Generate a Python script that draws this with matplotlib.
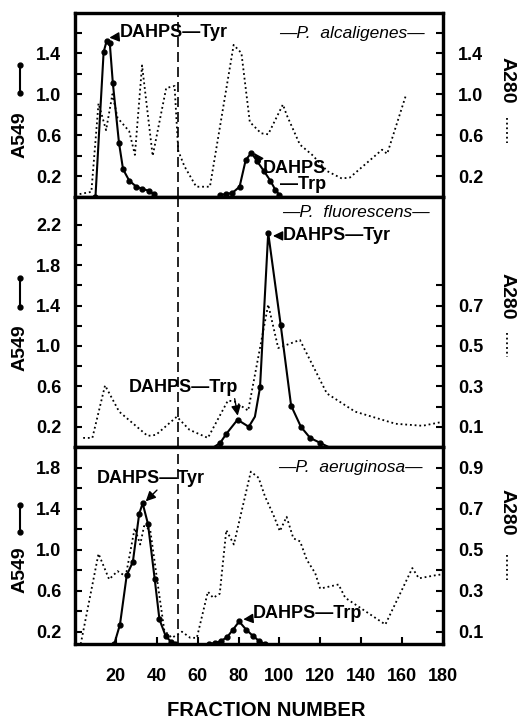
import matplotlib
matplotlib.use("Agg")
import matplotlib.pyplot as plt
from matplotlib.lines import Line2D

plt.rcParams["font.family"] = ["Liberation Sans", "DejaVu Sans"]
plt.rcParams["font.weight"] = "bold"

W, H = 517, 720

# --- P. alcaligenes (top) ---
alc_a549_tyr_x = [10, 14, 15.5, 17, 18.5, 21.5, 23.5, 26.5, 30, 33, 36, 38.5]
alc_a549_tyr_y = [0.0, 1.41, 1.52, 1.50, 1.11, 0.53, 0.27, 0.16, 0.10, 0.08, 0.06, 0.03]
alc_a549_trp_x = [71, 74, 77, 80.5, 83.5, 86.3, 89, 92.5, 95.5, 98, 100]
alc_a549_trp_y = [0.02, 0.03, 0.04, 0.10, 0.36, 0.43, 0.35, 0.25, 0.16, 0.07, 0.02]
alc_a280_x = [0, 8, 11.5, 15.2, 18.3, 20.8, 26.5, 29.3, 32.8, 38, 44.6, 48.7, 50.5,
              53.5, 59.3, 66, 77.6, 81.4, 85.5, 91, 94.5, 101.7, 103.5, 110, 116,
              123.5, 130.5, 134.5, 150.2, 152.7, 161.7]
alc_a280_y = [0.02, 0.05, 0.91, 0.65, 1.00, 0.77, 0.64, 0.41, 1.28, 0.40, 1.06, 1.08, 0.45,
              0.30, 0.10, 0.10, 1.48, 1.40, 0.73, 0.62, 0.61, 0.90, 0.80, 0.51, 0.41,
              0.25, 0.18, 0.19, 0.46, 0.42, 0.98]

# --- P. fluorescens (middle) ---
flu_a549_x = [68, 71, 74, 79.5, 85, 88, 90.5, 94.5, 100.6, 105.7, 110.5, 115, 120, 124]
flu_a549_y = [0.0, 0.04, 0.13, 0.27, 0.20, 0.30, 0.59, 2.12, 1.21, 0.41, 0.20, 0.09, 0.04, 0.0]
flu_a280_x = [4, 8.5, 14.7, 21.6, 35.5, 39.6, 49.8, 56, 65, 74.8, 78.1, 84.7, 94.5,
              99.4, 110, 123.2, 137, 156.8, 170, 180]
flu_a280_y = [0.045, 0.045, 0.305, 0.175, 0.055, 0.06, 0.15, 0.085, 0.045, 0.23, 0.225,
              0.18, 0.705, 0.49, 0.53, 0.265, 0.175, 0.115, 0.105, 0.125]

# --- P. aeruginosa (bottom) ---
aer_a549_tyr_x = [19.2, 22, 25.3, 28.3, 31.4, 33.1, 35.7, 39, 41.3, 44.3, 47, 48.7]
aer_a549_tyr_y = [0.08, 0.27, 0.75, 0.88, 1.35, 1.45, 1.25, 0.71, 0.32, 0.16, 0.10, 0.08]
aer_a549_trp_x = [65.5, 68.5, 71.6, 74.5, 77.3, 80.3, 83.7, 87, 90, 93]
aer_a549_trp_y = [0.08, 0.09, 0.11, 0.15, 0.22, 0.30, 0.22, 0.16, 0.11, 0.08]
aer_a280_x = [2.8, 11.5, 16.7, 20.8, 24.8, 29.2, 31.9, 33.8, 36.8, 40, 43.7, 47.4, 52.3,
              56.4, 59.6, 65, 67.6, 70.8, 74, 77.7, 86, 89.8, 92.9, 97, 100.2, 103.5,
              106.8, 110.1, 113.4, 117.5, 119.9, 128.9, 132.2, 142, 151.8, 165, 168.2,
              176.4, 180]
aer_a280_y = [0.04, 0.48, 0.355, 0.395, 0.37, 0.605, 0.525, 0.615, 0.595, 0.365, 0.105,
              0.07, 0.10, 0.07, 0.07, 0.295, 0.265, 0.285, 0.595, 0.525, 0.88, 0.85,
              0.76, 0.67, 0.59, 0.66, 0.555, 0.54, 0.45, 0.385, 0.31, 0.33, 0.265,
              0.20, 0.135, 0.41, 0.36, 0.375, 0.38]

x_ticks = [20, 40, 60, 80, 100, 120, 140, 160, 180]


def rect(l, t, r, b):
    return [l / W, 1 - b / H, (r - l) / W, (b - t) / H]


def style_axes(ax, ax2, ylim, ticks, labels, rticks, rlabels, factor):
    ax.set_xlim(0, 180)
    ax.set_ylim(*ylim)
    ax2.set_ylim(ylim[0] / factor, ylim[1] / factor)
    ax.set_yticks(ticks)
    ax.set_yticklabels(labels)
    ax2.set_yticks(rticks)
    ax2.set_yticklabels(rlabels)
    ax.tick_params(axis="y", direction="in", length=5, width=1.5, labelsize=13, pad=10)
    ax2.tick_params(axis="y", direction="in", length=5, width=1.5, labelsize=13, pad=11)
    for a in (ax, ax2):
        for s in a.spines.values():
            s.set_linewidth(2.3)
    ax.axvline(50.5, color="k", lw=1.2, ls=(0, (6, 3)), zorder=1)


def lab(v):
    return "" if round(v * 10) % 4 != 2 else f"{v:.1f}"


fig = plt.figure(figsize=(W / 100, H / 100), dpi=100)

solid = dict(color="k", lw=1.5, marker="o", ms=3.5)
dotted = dict(color="k", lw=1.3, ls=(0, (1, 1.6)))
arrow = dict(arrowstyle="-|>,head_length=0.45,head_width=0.22", color="k", lw=1.0,
             shrinkA=0, shrinkB=0)

# top panel
ax1 = fig.add_axes(rect(75, 13, 443, 197))
ax1b = ax1.twinx()
t1 = [0.2, 0.4, 0.6, 0.8, 1.0, 1.2, 1.4, 1.6]
style_axes(ax1, ax1b, (0, 1.79), t1, [lab(v) for v in t1], t1, [lab(v) for v in t1], 1)
ax1.set_xticks([])
ax1.plot(alc_a549_tyr_x, alc_a549_tyr_y, **solid)
ax1.plot(alc_a549_trp_x, alc_a549_trp_y, **solid)
ax1b.plot(alc_a280_x, alc_a280_y, **dotted)
ax1.text(171, 1.595, "—P.  alcaligenes—", style="italic", fontweight="normal",
         fontsize=12.5, ha="right", va="center")
ax1.annotate("DAHPS—Tyr", xy=(16.8, 1.55), xytext=(22, 1.6), fontsize=13,
             va="center", ha="left", arrowprops=arrow)
ax1.annotate("DAHPS\n—Trp", xy=(87.5, 0.43), xytext=(92, 0.2), fontsize=13,
             va="center", ha="left", multialignment="right", linespacing=0.95,
             arrowprops=dict(arrow, relpos=(0, 0.82)))

# middle panel
ax2 = fig.add_axes(rect(75, 197, 443, 447))
ax2b = ax2.twinx()
t2 = [0.2, 0.4, 0.6, 0.8, 1.0, 1.2, 1.4, 1.6, 1.8, 2.0, 2.2]
r2 = [0.1, 0.2, 0.3, 0.4, 0.5, 0.6, 0.7, 0.8]
style_axes(ax2, ax2b, (0, 2.475), t2, [lab(v) for v in t2], r2,
           [f"{v:.1f}" if round(v * 10) % 2 else "" for v in r2], 2)
ax2.set_xticks([])
ax2.plot(flu_a549_x, flu_a549_y, markevery=[1, 2, 3, 4, 6, 7, 8, 9, 10, 11, 12], **solid)
ax2b.plot(flu_a280_x, flu_a280_y, **dotted)
ax2.text(173.6, 2.32, "—P.  fluorescens—", style="italic", fontweight="normal",
         fontsize=12.5, ha="right", va="center")
ax2.annotate("DAHPS—Tyr", xy=(96.8, 2.09), xytext=(101.5, 2.09), fontsize=13,
             va="center", ha="left", arrowprops=arrow)
ax2.annotate("DAHPS—Trp", xy=(79.6, 0.31), xytext=(26.5, 0.59), fontsize=13,
             va="center", ha="left",
             arrowprops=dict(arrow, relpos=(0.96, 0.0)))

# bottom panel
ax3 = fig.add_axes(rect(75, 447, 443, 644))
ax3b = ax3.twinx()
t3 = [0.2, 0.4, 0.6, 0.8, 1.0, 1.2, 1.4, 1.6, 1.8]
r3 = [0.1, 0.2, 0.3, 0.4, 0.5, 0.6, 0.7, 0.8, 0.9]
style_axes(ax3, ax3b, (0.08, 2.0), t3, [lab(v) for v in t3], r3,
           [f"{v:.1f}" if round(v * 10) % 2 else "" for v in r3], 2)
ax3.set_xticks(x_ticks)
ax3.tick_params(axis="x", direction="in", length=5, width=1.5, labelsize=13, pad=17)
ax3.plot(aer_a549_tyr_x, aer_a549_tyr_y, **solid)
ax3.plot(aer_a549_trp_x, aer_a549_trp_y, **solid)
ax3b.plot(aer_a280_x, aer_a280_y, **dotted)
ax3.text(170, 1.80, "—P.  aeruginosa—", style="italic", fontweight="normal",
         fontsize=12.5, ha="right", va="center")
ax3.annotate("DAHPS—Tyr", xy=(34.6, 1.47), xytext=(10.8, 1.69), fontsize=13,
             va="center", ha="left", arrowprops=dict(arrow, relpos=(0.58, 0.0)))
ax3.annotate("DAHPS—Trp", xy=(82.3, 0.32), xytext=(87, 0.38), fontsize=13,
             va="center", ha="left", arrowprops=arrow)

# side labels with line-style keys
for yc, ys in [(135, (65, 93)), (348, (278, 307)), (570, (505, 532))]:
    fig.text(20 / W, 1 - yc / H, "A549", rotation=90, fontsize=14,
             ha="center", va="center")
    fig.add_artist(Line2D([20 / W, 20 / W], [1 - ys[0] / H, 1 - ys[1] / H],
                          color="k", lw=1.5, marker="o", ms=3.5))
for yc, ys in [(80, (118, 143)), (296, (333, 357)), (512, (555, 580))]:
    fig.text(507 / W, 1 - yc / H, "A280", rotation=270, fontsize=14,
             ha="center", va="center")
    fig.add_artist(Line2D([507 / W, 507 / W], [1 - ys[0] / H, 1 - ys[1] / H],
                          color="k", lw=1.3, ls=(0, (1, 1.6))))

fig.text(266 / W, 1 - 711 / H, "FRACTION NUMBER", fontsize=14.5, ha="center", va="center")

fig.savefig("out.png", dpi=100)
